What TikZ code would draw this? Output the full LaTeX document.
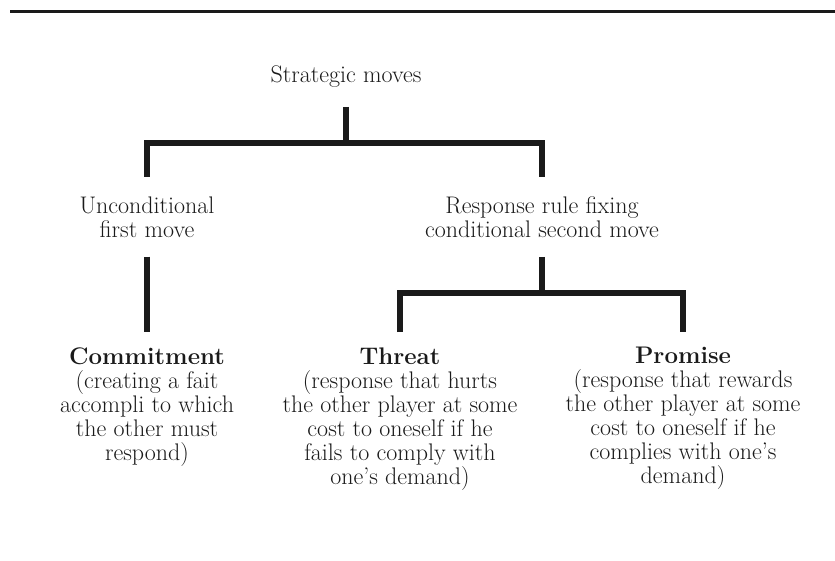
\documentclass[tikz,border=0pt]{standalone}
\usepackage{tikz}

\definecolor{inkgray}{HTML}{1A1A1A}

\begin{document}
\begin{tikzpicture}[x=1pt, y=-1pt, thick,
    txt/.style={align=center, inner xsep=2pt, inner ysep=19pt, text=inkgray, font=\fontsize{24}{24}\selectfont},
    leaf/.style={txt, inner ysep=15pt},
    bar/.style={draw=inkgray, line width=6pt, line join=miter},
    rule/.style={draw=inkgray, line width=3pt}]

\useasboundingbox (0,0) rectangle (835,561);
\draw[rule] (10,12) -- (835,12);

% Nodes
\node [txt, anchor=south] (moves) at (346,107) {Strategic moves};
\node [txt, anchor=north] (uncond) at (147,177) {Unconditional\\first move};
\node [txt, anchor=north] (response) at (542,177) {Response rule fixing\\conditional second move};
\node [leaf, anchor=north] (commit) at (147,332) {\textbf{Commitment}\\(creating a fait\\accompli to which\\the other must\\respond)};
\node [leaf, anchor=north] (threat) at (400,332) {\textbf{Threat}\\(response that hurts\\the other player at some\\cost to oneself if he\\fails to comply with\\one's demand)};
\node [leaf, anchor=north] (promise) at (683,332) {\textbf{Promise}\\(response that rewards\\the other player at some\\cost to oneself if he\\complies with one's\\demand)};

\coordinate (fork1) at (346,143);
\coordinate (fork2) at (542,293);

% Lines
\draw[bar] (uncond.north) |- (fork1) -| (response.north);
\draw[bar] (moves.south) -- (fork1);
\draw[bar] (uncond.south) -- (commit.north);
\draw[bar] (threat.north) |- (fork2) -| (promise.north);
\draw[bar] (response.south) -- (fork2);

\end{tikzpicture}
\end{document}
